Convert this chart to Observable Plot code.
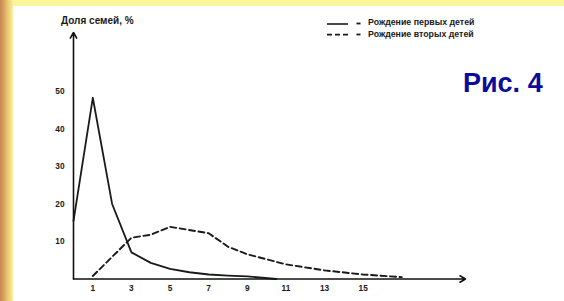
<!DOCTYPE html>
<html>
<head>
<meta charset="utf-8">
<script src="https://cdn.jsdelivr.net/npm/d3@7"></script>
<script src="https://cdn.jsdelivr.net/npm/@observablehq/plot@0.6"></script>
<style>
  html, body { margin: 0; padding: 0; }
  body { width: 564px; height: 301px; overflow: hidden; position: relative;
         font-family: "Liberation Sans", Arial, sans-serif;
         background: #fbf59c; }
  #leftband { position: absolute; left: 0; top: 0; width: 13px; height: 301px;
         background: linear-gradient(to right, #c78650 0%, #d9a45f 30%, #eccf78 65%, #f9f19a 100%); }
  #panel { position: absolute; left: 13px; top: 6px; width: 551px; height: 295px; background: #ffffff; }
  #chart { position: absolute; left: 0; top: 0; }
  .txt { position: absolute; white-space: nowrap; font-weight: bold; color: #1a1a1a; }
</style>
</head>
<body>
<div id="leftband"></div>
<div id="panel"></div>
<div id="chart"></div>
<div class="txt" style="left:61px; top:15.5px; font-size:10px; line-height:10px;">Доля семей, %</div>
<svg style="position:absolute;left:0;top:0" width="564" height="301">
  <line x1="327" y1="24" x2="348" y2="24" stroke="#1a1a1a" stroke-width="1.6"/>
  <line x1="327" y1="34.7" x2="349" y2="34.7" stroke="#1a1a1a" stroke-width="1.8" stroke-dasharray="5,3"/>
  <line x1="356.5" y1="23.5" x2="360.5" y2="23.5" stroke="#1a1a1a" stroke-width="1.8"/>
  <line x1="356.5" y1="34.5" x2="360.5" y2="34.5" stroke="#1a1a1a" stroke-width="1.8"/>
</svg>
<div class="txt" style="left:368px; top:18.4px; font-size:8.8px; line-height:9px;">Рождение первых детей</div>
<div class="txt" style="left:368px; top:29.7px; font-size:8.8px; line-height:9px;">Рождение вторых детей</div>
<div class="txt" style="left:463px; top:70.4px; font-size:27px; line-height:27px; color:#0c0c9a;">Рис. 4</div>
<script>
// Years (x) and share of families, % (y)
const firstYears  = [0, 1, 2, 3, 4, 5, 6, 7, 8, 9, 10.5];
const firstShare  = [15.5, 48.3, 20, 7.1, 4.3, 2.7, 1.8, 1.2, 0.9, 0.7, 0];
const secondYears = [1, 3, 4, 5, 7, 8, 9, 11, 13, 15, 17];
const secondShare = [0.8, 11, 11.8, 13.9, 12.2, 8.6, 6.6, 3.9, 2.3, 1.2, 0.5];
const xTicks = [1, 3, 5, 7, 9, 11, 13, 15];
const yTicks = [10, 20, 30, 40, 50];
const xMax = 20.3;
const yMax = 65.7;

const first = firstYears.map((x, i) => ({x, y: firstShare[i]}));
const second = secondYears.map((x, i) => ({x, y: secondShare[i]}));
const axes = [
  {x1: 0, y1: 0, x2: 0, y2: yMax},
  {x1: 0, y1: 0, x2: xMax, y2: 0}
];

const chart = Plot.plot({
  width: 564,
  height: 301,
  marginLeft: 73,
  marginRight: 99,
  marginTop: 32,
  marginBottom: 22.5,
  style: {background: "transparent", fontFamily: "Liberation Sans, Arial, sans-serif"},
  x: {domain: [0, xMax]},
  y: {domain: [0, yMax]},
  marks: [
    Plot.axisX({ticks: xTicks, tickSize: 0, tickPadding: 6, label: null,
                fontSize: 8.3, fontWeight: "bold", fill: "#1a1a1a"}),
    Plot.axisY({ticks: yTicks, tickSize: 0, tickPadding: 9, label: null,
                fontSize: 8.3, fontWeight: "bold", fill: "#1a1a1a"}),
    Plot.line(first, {x: "x", y: "y", stroke: "#1a1a1a", strokeWidth: 1.8}),
    Plot.line(second, {x: "x", y: "y", stroke: "#1a1a1a", strokeWidth: 1.9, strokeDasharray: "6,3.5"}),
    Plot.arrow(axes, {x1: "x1", y1: "y1", x2: "x2", y2: "y2", stroke: "#111",
                      strokeWidth: 1.6, headLength: 6})
  ]
});
document.getElementById("chart").appendChild(chart);
</script>
</body>
</html>
